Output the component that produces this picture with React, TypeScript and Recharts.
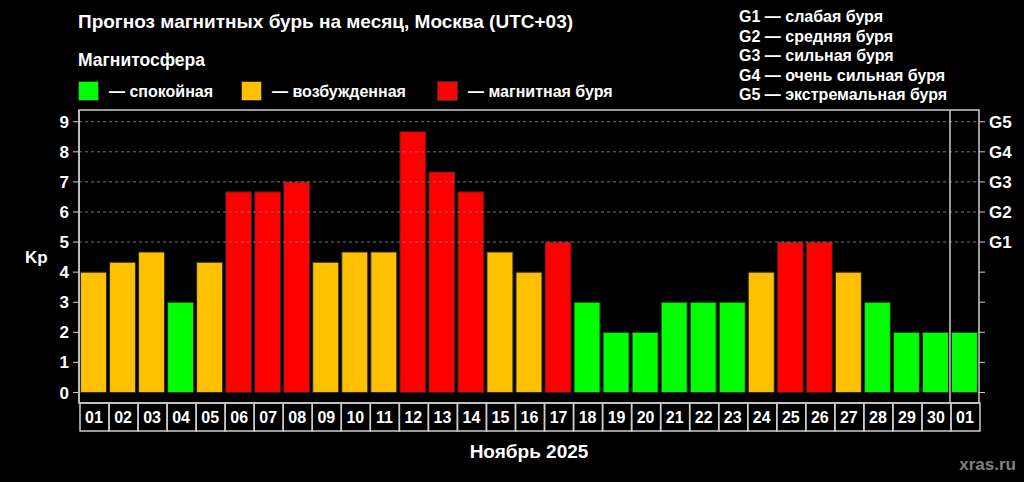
import React from 'react';
import {
  BarChart,
  Bar,
  Cell,
  XAxis,
  YAxis,
  ReferenceLine,
  ReferenceArea
} from 'recharts';

// days of the forecast (last one is the first day of next month)
const days = [
  '2025-11-01', '2025-11-02', '2025-11-03', '2025-11-04', '2025-11-05', '2025-11-06',
  '2025-11-07', '2025-11-08', '2025-11-09', '2025-11-10', '2025-11-11', '2025-11-12',
  '2025-11-13', '2025-11-14', '2025-11-15', '2025-11-16', '2025-11-17', '2025-11-18',
  '2025-11-19', '2025-11-20', '2025-11-21', '2025-11-22', '2025-11-23', '2025-11-24',
  '2025-11-25', '2025-11-26', '2025-11-27', '2025-11-28', '2025-11-29', '2025-11-30',
  '2025-12-01'
];

// Kp index forecast
const kpValues = [
  4, 4.33, 4.67, 3, 4.33, 6.67, 6.67, 7, 4.33, 4.67, 4.67, 8.67, 7.33, 6.67, 4.67, 4,
  5, 3, 2, 2, 3, 3, 3, 4, 5, 5, 4, 3, 2, 2, 2
];

const kpTicks = [0, 1, 2, 3, 4, 5, 6, 7, 8, 9];
const stormLevels = [5, 6, 7, 8, 9];
const kpDomain: [number, number] = [-0.35, 9.39];

const legendItems = [
  { color: '#00ff00', label: '— спокойная' },
  { color: '#ffc000', label: '— возбужденная' },
  { color: '#ff0000', label: '— магнитная буря' }
];

const gLegend = [
  'G1 — слабая буря',
  'G2 — средняя буря',
  'G3 — сильная буря',
  'G4 — очень сильная буря',
  'G5 — экстремальная буря'
];

const font = '"Liberation Sans", Arial, sans-serif';

const data = days.map((d, i) => ({ day: d, kp: kpValues[i] }));

const kpColor = (kp: number) => (kp >= 5 ? '#ff0000' : kp >= 4 ? '#ffc000' : '#00ff00');

const DayTick = (props: any) => {
  const { x, y, payload } = props;
  const w = 900 / days.length;
  return (
    <g>
      <rect x={x - w / 2 + 1} y={y} width={w} height={28} fill="none" stroke="#cccccc" strokeWidth={1.5} />
      <text x={x + 0.5} y={y + 20} textAnchor="middle" fill="#ffffff" fontSize={16} fontWeight="bold" fontFamily={font}>
        {payload.value.slice(8)}
      </text>
    </g>
  );
};

const App: React.FC = () => {
  return (
    <div
      style={{
        position: 'absolute',
        top: 0,
        left: 0,
        width: 1024,
        height: 482,
        background: '#000000',
        fontFamily: font,
        color: '#ffffff',
        fontWeight: 'bold'
      }}
    >
      <div style={{ position: 'absolute', left: 78, top: 11, fontSize: 19, lineHeight: '22px' }}>
        Прогноз магнитных бурь на месяц, Москва (UTC+03)
      </div>
      <div style={{ position: 'absolute', left: 78, top: 49, fontSize: 17.5, lineHeight: '22px' }}>
        Магнитосфера
      </div>
      {legendItems.map((item, i) => (
        <div
          key={item.label}
          style={{
            position: 'absolute',
            left: [78, 241, 437][i],
            top: 81,
            display: 'flex',
            alignItems: 'center',
            fontSize: 16,
            lineHeight: '19px'
          }}
        >
          <span
            style={{
              display: 'inline-block',
              width: 19,
              height: 18,
              background: item.color,
              border: '1px solid #333',
              marginRight: 10
            }}
          />
          {item.label}
        </div>
      ))}
      <div style={{ position: 'absolute', left: 739, top: 7, fontSize: 16, lineHeight: '19.6px' }}>
        {gLegend.map((g) => (
          <div key={g}>{g}</div>
        ))}
      </div>

      <BarChart
        width={1024}
        height={482}
        data={data}
        margin={{ top: 110, right: 5, left: 19, bottom: 51 }}
        barCategoryGap={1.5}
        style={{ position: 'absolute', top: 0, left: 0 }}
      >
        <ReferenceArea yAxisId="kp" y1={kpDomain[0]} y2={kpDomain[1]} fill="none" stroke="#cccccc" strokeWidth={1.5} ifOverflow="visible" />
        {stormLevels.map((v) => (
          <ReferenceLine key={v} yAxisId="kp" y={v} stroke="#777777" strokeDasharray="3 3" strokeWidth={1} />
        ))}
        <XAxis
          dataKey="day"
          interval={0}
          axisLine={false}
          tickLine={false}
          tickSize={0}
          tickMargin={0}
          height={28}
          tick={<DayTick />}
        />
        <YAxis
          yAxisId="kp"
          width={60}
          domain={kpDomain}
          ticks={kpTicks}
          allowDataOverflow
          axisLine={{ stroke: '#cccccc', strokeWidth: 1.5 }}
          tickLine={{ stroke: '#cccccc' }}
          tickSize={6}
          tickMargin={4}
          tick={{ fill: '#ffffff', fontSize: 17, fontWeight: 'bold', fontFamily: font }}
          label={{
            value: 'Kp',
            position: 'insideLeft',
            offset: 6,
            fill: '#ffffff',
            fontSize: 17,
            fontWeight: 'bold',
            fontFamily: font
          }}
        />
        <YAxis
          yAxisId="g"
          orientation="right"
          width={40}
          domain={kpDomain}
          ticks={kpTicks}
          allowDataOverflow
          axisLine={false}
          tickLine={{ stroke: '#cccccc' }}
          tickSize={6}
          tickMargin={4}
          tickFormatter={(v: number) => (v >= 5 ? 'G' + (v - 4) : '')}
          tick={{ fill: '#ffffff', fontSize: 17, fontWeight: 'bold', fontFamily: font }}
        />
        <ReferenceLine yAxisId="kp" x="2025-12-01" position="start" stroke="#cccccc" strokeWidth={1.5} />
        <Bar yAxisId="kp" dataKey="kp" stroke="#2a2a2a" strokeWidth={1} isAnimationActive={false}>
          {data.map((d) => (
            <Cell key={d.day} fill={kpColor(d.kp)} />
          ))}
        </Bar>
      </BarChart>

      <div style={{ position: 'absolute', left: 0, width: 1058, top: 441, textAlign: 'center', fontSize: 19, lineHeight: '22px' }}>
        Ноябрь 2025
      </div>
      <div style={{ position: 'absolute', right: 8, top: 454, fontSize: 17, lineHeight: '22px', color: '#7f7f7f' }}>
        xras.ru
      </div>
    </div>
  );
};

export default App;
